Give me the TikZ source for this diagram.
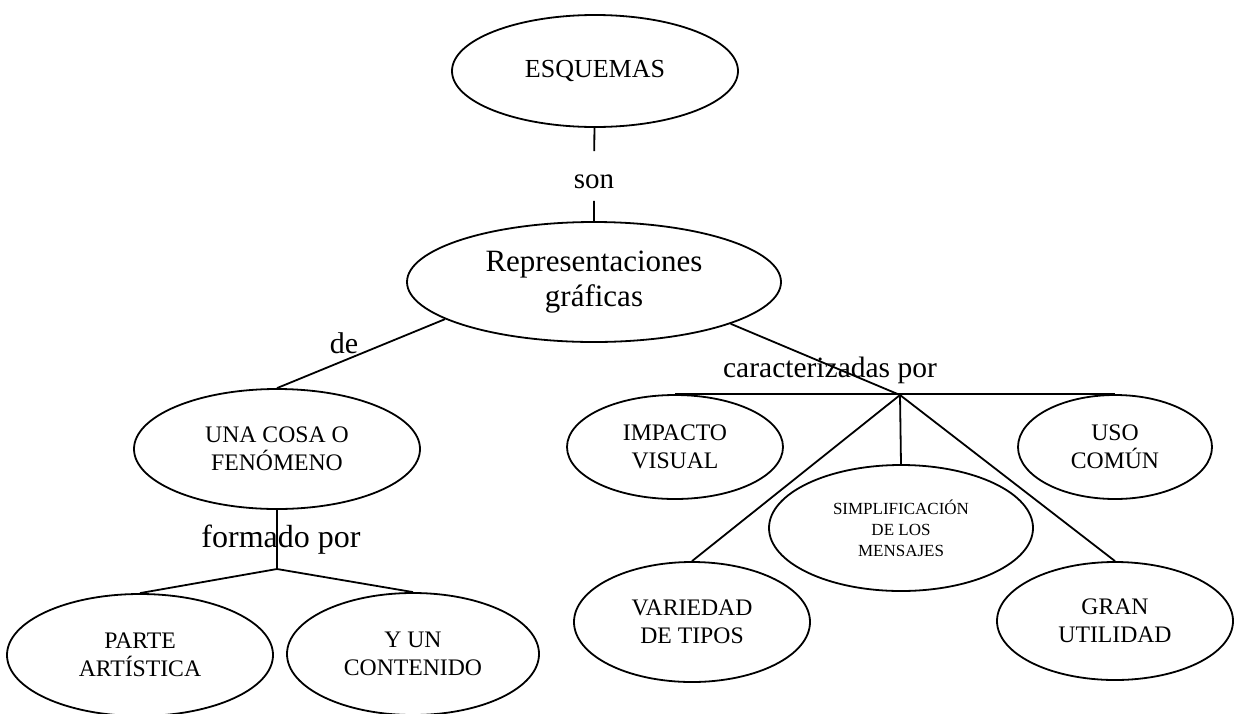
\documentclass[tikz,border=0pt]{standalone}
\usepackage{fontspec}
\setmainfont{Liberation Serif}
\usetikzlibrary{shapes}

\begin{document}
\begin{tikzpicture}[x=1pt,y=-1pt]
  \useasboundingbox (0,0) rectangle (1237,713);
  \begin{scope}[line width=1.8pt,
every node/.style={align=center, inner sep=0pt},
idea/.style={
  ellipse, draw, line width=1.8pt, font=\fontsize{23.7}{28}\selectfont},
link/.style={font=\fontsize{30}{34}\selectfont}
    ]
    \node[idea, minimum width=286, minimum height=112, font=\fontsize{26}{30}\selectfont] (esquemas) at (595,71) {ESQUEMAS};
    \node[link, text height=36.5pt, text depth=11.5pt, font=\fontsize{29}{33}\selectfont] (son) at (594,176) {son};
    \node[idea, minimum width=374, minimum height=120, font=\fontsize{31}{35}\selectfont] (rep) at (594,282) {Representaciones\\gráficas};
    \node[link] (de) at (344,343) {de};
    \node[idea, minimum width=286, minimum height=120] (una) at (277,449) {UNA COSA O\\FENÓMENO};
    \node[link, font=\fontsize{32}{36}\selectfont] (formado) at (281,540) {formado por};
    \coordinate (ja) at (277,569);
    \node[idea, minimum width=266, minimum height=122] (parte) at (140,655) {PARTE\\ARTÍSTICA};
    \node[idea, minimum width=252, minimum height=122] (yun) at (413,654) {Y UN\\CONTENIDO};
    \node[link, font=\fontsize{29.5}{33}\selectfont] (caract) at (830,370) {caracterizadas por};
    \coordinate (jb) at (900,395);
    \node[idea, minimum width=216, minimum height=104] (impacto) at (675,447) {IMPACTO\\VISUAL};
    \node[idea, minimum width=264, minimum height=126, font=\fontsize{17}{21}\selectfont] (simp) at (901,528) {SIMPLIFICACIÓN\\DE LOS\\MENSAJES};
    \node[idea, minimum width=194, minimum height=104] (uso) at (1115,447) {USO\\COMÚN};
    \node[idea, minimum width=236, minimum height=120] (variedad) at (692,622) {VARIEDAD\\DE TIPOS};
    \node[idea, minimum width=236, minimum height=118] (gran) at (1115,621) {GRAN\\UTILIDAD};

    \draw (esquemas) -- (son) -- (rep);
    \draw (rep.194) -- (una.north);
    \draw (una) -- (ja) -- (parte.north);
    \draw (ja) -- (yun.north);
    \draw (rep.343) -- (jb);
    \draw (impacto.north) -- (uso.north);
    \draw (jb) -- (variedad.north);
    \draw (jb) -- (simp.north);
    \draw (jb) -- (gran.north);
  \end{scope}
\end{tikzpicture}
\end{document}
